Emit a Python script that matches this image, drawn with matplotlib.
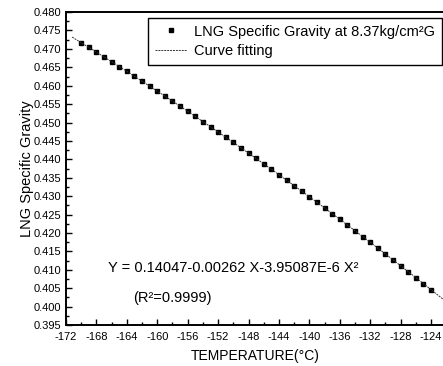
import numpy as np
import matplotlib
matplotlib.use("Agg")
import matplotlib.pyplot as plt
from matplotlib.ticker import MultipleLocator, FormatStrFormatter

plt.rcParams["font.family"] = ["Liberation Sans", "DejaVu Sans"]
plt.rcParams["axes.unicode_minus"] = False

# measured points (temperature in C, specific gravity)
temperature = list(range(-170, -123))
specific_gravity = [
    0.47169, 0.47041, 0.46912, 0.46782, 0.46652, 0.46521, 0.46389, 0.46256,
    0.46122, 0.45988, 0.45853, 0.45717, 0.45580, 0.45443, 0.45304, 0.45165,
    0.45025, 0.44884, 0.44743, 0.44601, 0.44458, 0.44314, 0.44169, 0.44024,
    0.43877, 0.43730, 0.43583, 0.43434, 0.43285, 0.43134, 0.42983, 0.42832,
    0.42679, 0.42526, 0.42371, 0.42217, 0.42061, 0.41904, 0.41747, 0.41589,
    0.41430, 0.41270, 0.41110, 0.40949, 0.40787, 0.40624, 0.40460,
]
fit_range = (-171.2, -122.2)

x = np.array(temperature)
y = np.array(specific_gravity)
coef = np.polyfit(x, y, 2)
xf = np.linspace(fit_range[0], fit_range[1], 200)
yf = np.polyval(coef, xf)

fig = plt.figure(figsize=(4.43, 3.66), dpi=100)
ax = fig.add_axes([0.149, 0.112, 0.855, 0.855])

ax.plot(x, y, "s", color="black", markersize=2.8, linestyle="none",
        label="LNG Specific Gravity at 8.37kg/cm²G")
ax.plot(xf, yf, color="#333333", linewidth=0.7, linestyle=(0, (2, 1)),
        label="Curve fitting")

ax.set_xlim(-172, -122.2)
ax.set_ylim(0.395, 0.480)
ax.xaxis.set_major_locator(MultipleLocator(4))
ax.xaxis.set_minor_locator(MultipleLocator(2))
ax.yaxis.set_major_locator(MultipleLocator(0.005))
ax.yaxis.set_minor_locator(MultipleLocator(0.0025))
ax.yaxis.set_major_formatter(FormatStrFormatter("%.3f"))
ax.tick_params(which="both", direction="in", labelsize=8, width=1)
ax.tick_params(which="major", length=4)
ax.tick_params(which="minor", length=2)
ax.tick_params(axis="x", pad=5)
for s in ax.spines.values():
    s.set_linewidth(1.4)

ax.set_xlabel("TEMPERATURE(°C)", fontsize=10, labelpad=5)
ax.set_ylabel("LNG Specific Gravity", fontsize=10.5, labelpad=0)

ax.text(-166.5, 0.4105, "Y = 0.14047-0.00262 X-3.95087E-6 X²",
        fontsize=10.5, va="center", ha="left")
ax.text(-163.2, 0.4023, "(R²=0.9999)", fontsize=10.5, va="center", ha="left")

leg = ax.legend(loc="upper right", bbox_to_anchor=(0.992, 0.981), borderaxespad=0,
                fontsize=10.5, fancybox=False, edgecolor="black", framealpha=1,
                handlelength=2.2, handletextpad=0.5, borderpad=0.45, labelspacing=0.4)
leg.get_frame().set_linewidth(1.0)

fig.savefig("out.png", dpi=100)
